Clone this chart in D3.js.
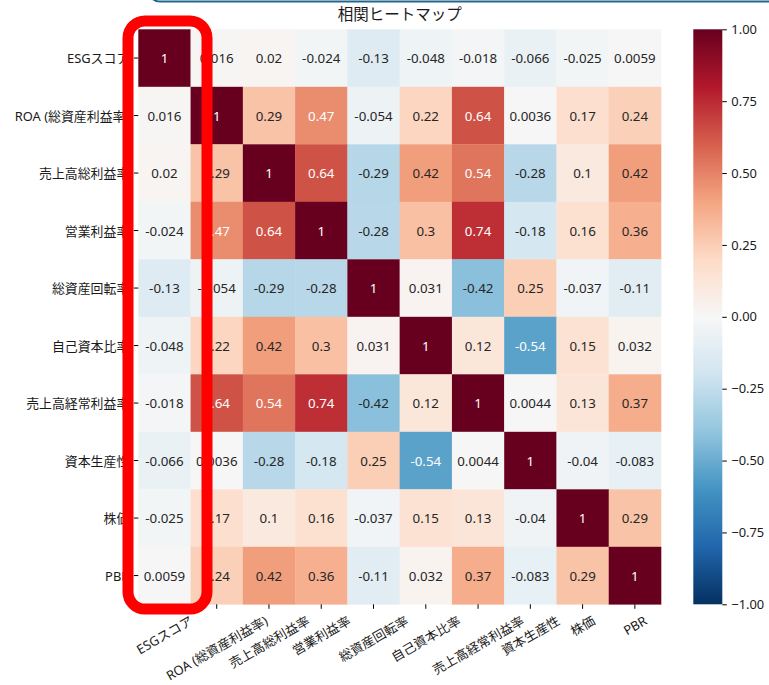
<!DOCTYPE html>
<html>
<head>
<meta charset="utf-8">
<script src="https://cdn.jsdelivr.net/npm/d3@7"></script>
<style>
  body { margin: 0; background: #fff; }
  text { font-family: "Noto Sans", "Noto Sans CJK JP", sans-serif; }
</style>
</head>
<body>
<div id="chart"></div>
<script>
// labels for rows and columns (same order)
var labels = ["ESGスコア", "ROA (総資産利益率)", "売上高総利益率", "営業利益率", "総資産回転率",
              "自己資本比率", "売上高経常利益率", "資本生産性", "株価", "PBR"];

// correlation matrix, one array per row
var rowESG   = [1, 0.016, 0.02, -0.024, -0.13, -0.048, -0.018, -0.066, -0.025, 0.0059];
var rowROA   = [0.016, 1, 0.29, 0.47, -0.054, 0.22, 0.64, 0.0036, 0.17, 0.24];
var rowGross = [0.02, 0.29, 1, 0.64, -0.29, 0.42, 0.54, -0.28, 0.1, 0.42];
var rowOp    = [-0.024, 0.47, 0.64, 1, -0.28, 0.3, 0.74, -0.18, 0.16, 0.36];
var rowTurn  = [-0.13, -0.054, -0.29, -0.28, 1, 0.031, -0.42, 0.25, -0.037, -0.11];
var rowEq    = [-0.048, 0.22, 0.42, 0.3, 0.031, 1, 0.12, -0.54, 0.15, 0.032];
var rowOrd   = [-0.018, 0.64, 0.54, 0.74, -0.42, 0.12, 1, 0.0044, 0.13, 0.37];
var rowCap   = [-0.066, 0.0036, -0.28, -0.18, 0.25, -0.54, 0.0044, 1, -0.04, -0.083];
var rowPrice = [-0.025, 0.17, 0.1, 0.16, -0.037, 0.15, 0.13, -0.04, 1, 0.29];
var rowPBR   = [0.0059, 0.24, 0.42, 0.36, -0.11, 0.032, 0.37, -0.083, 0.29, 1];

var colorbarTicks = [1, 0.75, 0.5, 0.25, 0, -0.25, -0.5, -0.75, -1];

function init(){
  var matrix = [rowESG, rowROA, rowGross, rowOp, rowTurn, rowEq, rowOrd, rowCap, rowPrice, rowPBR];

  var W = 769, H = 685;
  var x0 = 138.3, y0 = 29.3, x1 = 661, y1 = 604.3;
  var fs = 12.9;

  // matplotlib RdBu, reversed (high = red)
  var rdbu = ["#67001f", "#b2182b", "#d6604d", "#f4a582", "#fddbc7", "#f7f7f7",
              "#d1e5f0", "#92c5de", "#4393c3", "#2166ac", "#053061"];
  var color = d3.scaleLinear()
                .domain(d3.range(11).map(function(i){ return 1 - i * 0.2; }))
                .range(rdbu)
                .interpolate(d3.interpolateRgb);

  function luminance(c){
    var rgb = d3.rgb(c);
    var v = [rgb.r, rgb.g, rgb.b].map(function(t){
      t = t / 255;
      return t <= 0.03928 ? t / 12.92 : Math.pow((t + 0.055) / 1.055, 2.4);
    });
    return 0.2126 * v[0] + 0.7152 * v[1] + 0.0722 * v[2];
  }

  var x = d3.scaleBand().domain(d3.range(labels.length)).range([x0, x1]);
  var y = d3.scaleBand().domain(d3.range(labels.length)).range([y0, y1]);

  var svg = d3.select("#chart").append("svg")
              .attr("width", W).attr("height", H);

  // cells
  var cells = [];
  matrix.forEach(function(row, i){
    row.forEach(function(v, j){ cells.push({r: i, c: j, v: v}); });
  });

  svg.append("g").selectAll("rect")
     .data(cells).enter().append("rect")
     .attr("x", function(d){ return x(d.c); })
     .attr("y", function(d){ return y(d.r); })
     .attr("width", x.bandwidth() + 0.3)
     .attr("height", y.bandwidth() + 0.3)
     .attr("fill", function(d){ return color(d.v); });

  svg.append("g").selectAll("text")
     .data(cells).enter().append("text")
     .attr("x", function(d){ return x(d.c) + x.bandwidth() / 2; })
     .attr("y", function(d){ return y(d.r) + y.bandwidth() / 2; })
     .attr("text-anchor", "middle")
     .attr("dominant-baseline", "central")
     .attr("font-size", 13.3)
     .attr("fill", function(d){ return luminance(color(d.v)) > 0.408 ? "#262626" : "#fff"; })
     .text(function(d){ return String(d.v); });

  // y axis
  var yAxis = svg.append("g");
  labels.forEach(function(l, i){
    var cy = y(i) + y.bandwidth() / 2;
    yAxis.append("line").attr("x1", x0 - 4.5).attr("x2", x0)
         .attr("y1", cy).attr("y2", cy).attr("stroke", "#000").attr("stroke-width", 1);
    yAxis.append("text").attr("x", x0 - 9).attr("y", cy)
         .attr("text-anchor", "end").attr("dominant-baseline", "central")
         .attr("font-size", fs).attr("fill", "#1a1a1a").text(l);
  });

  // x axis, labels rotated 30 deg and centred on the tick
  var xAxis = svg.append("g");
  labels.forEach(function(l, i){
    var cx = x(i) + x.bandwidth() / 2;
    xAxis.append("line").attr("x1", cx).attr("x2", cx)
         .attr("y1", y1).attr("y2", y1 + 4.5)
         .attr("stroke", "#000").attr("stroke-width", 1);
    var t = xAxis.append("text")
         .attr("text-anchor", "middle").attr("dominant-baseline", "central")
         .attr("font-size", fs).attr("fill", "#1a1a1a").text(l);
    var L = t.node().getComputedTextLength();
    var bh = L * 0.5 + fs * 1.05 * 0.866;
    t.attr("transform", "translate(" + cx + "," + (y1 + 9 + bh / 2) + ") rotate(-30)");
  });

  // title
  svg.append("text").attr("x", (x0 + x1) / 2).attr("y", 20)
     .attr("text-anchor", "middle").attr("font-size", 15.5).attr("fill", "#1a1a1a")
     .text("相関ヒートマップ");

  // colorbar
  var cbX = 693.3, cbW = 29;
  var grad = svg.append("defs").append("linearGradient")
                .attr("id", "cb").attr("x1", 0).attr("y1", 0).attr("x2", 0).attr("y2", 1);
  rdbu.forEach(function(c, i){
    grad.append("stop").attr("offset", i / 10).attr("stop-color", c);
  });
  svg.append("rect").attr("x", cbX).attr("y", y0).attr("width", cbW)
     .attr("height", y1 - y0).attr("fill", "url(#cb)");

  var cbScale = d3.scaleLinear().domain([-1, 1]).range([y1, y0]);
  var cbAxis = d3.axisRight(cbScale).tickValues(colorbarTicks)
                 .tickFormat(d3.format(".2f")).tickSize(4.5).tickPadding(4.5);
  var cbG = svg.append("g").attr("transform", "translate(" + (cbX + cbW) + ",0)").call(cbAxis);
  cbG.select(".domain").remove();
  cbG.selectAll("text").attr("font-size", fs).attr("fill", "#1a1a1a")
     .style("font-family", '"Noto Sans", "Noto Sans CJK JP", sans-serif');
  cbG.selectAll("line").attr("stroke", "#000");

  // highlight boxes drawn over the chart
  svg.append("rect").attr("x", 148).attr("y", -30).attr("width", 700).attr("height", 31.5)
     .attr("rx", 12).attr("fill", "none").attr("stroke", "#22668f").attr("stroke-width", 2);
  svg.append("rect").attr("x", 128).attr("y", 21).attr("width", 79).attr("height", 588)
     .attr("rx", 17).attr("fill", "none").attr("stroke", "#ff0000").attr("stroke-width", 11);
}

window.onload = init;
</script>
</body>
</html>
